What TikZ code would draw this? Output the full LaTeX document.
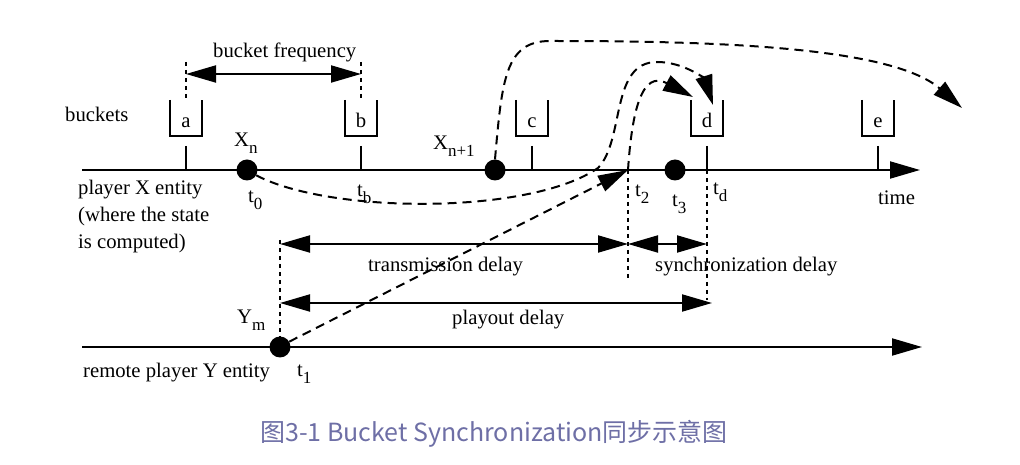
\documentclass[tikz,border=0pt]{standalone}
\usepackage{fontspec}
\setmainfont{Liberation Serif}
\newfontfamily\cjkfont{Noto Sans CJK SC}
\usetikzlibrary{arrows.meta}
\definecolor{capcol}{RGB}{110,111,166}
\newcommand{\lsub}[1]{\raisebox{-7bp}{\fontsize{17bp}{17bp}\selectfont #1}}
\begin{document}
\begin{tikzpicture}[x=1bp,y=-1bp,
  font=\fontsize{20.7bp}{25bp}\selectfont,
  mainline/.style={line width=2bp},
  bucketline/.style={line width=2.3bp},
  dashline/.style={line width=2bp, dash pattern=on 9bp off 6bp},
  dotline/.style={line width=2.5bp, dash pattern=on 4bp off 4bp},
  headend/.style={-{Triangle[length=30bp,width=17bp]}},
  dblend/.style={{Triangle[length=30bp,width=17bp]}-{Triangle[length=30bp,width=17bp]}},
  dot/.style={circle, fill=black, inner sep=0pt, minimum size=21bp},
  lbl/.style={inner sep=0pt, anchor=base west},
  blet/.style={inner sep=0pt, anchor=base}]
\fill[white] (0,0) rectangle (1020,465);
\useasboundingbox (0,0) rectangle (1020,465);

% axes
\coordinate (xs) at (82,170);
\coordinate (xe) at (920,170);
\coordinate (ys) at (82,347);
\coordinate (ye) at (922,347);
\draw[mainline, headend] (xs) -- (xe);
\draw[mainline, headend] (ys) -- (ye);

% ticks and buckets
\foreach \x/\l in {186/a,361/b,532/c,707/d,878/e}{
  \draw[mainline] (\x,146) -- (\x,170);
  \draw[bucketline] (\x-16,100) -- (\x-16,136) -- (\x+16,136) -- (\x+16,100);
  \node[blet] (b\l) at (\x,128) {\l};
}

% reference coordinates
\coordinate (t2) at (628,170);
\coordinate (td) at (707,170);

% dots
\node[dot] (xn) at (247,170) {};
\node[dot] (xn1) at (495,170) {};
\node[dot] (x3) at (675,170) {};
\node[dot] (ym) at (280,347) {};

% dotted guide lines
\draw[dotline] (186,62) -- (186,100);
\draw[dotline] (361,62) -- (361,100);
\draw[dotline] (280,240) -- (ym.north);
\draw[dotline] (t2) -- (628,278);
\draw[dotline] (td) -- (707,300);

% measurement arrows
\coordinate (bf1) at (186,74);
\coordinate (bf2) at (361,74);
\draw[mainline, dblend] (bf1) -- (bf2);
\coordinate (tr1) at (280,244);
\coordinate (tr2) at (628,244);
\coordinate (sy2) at (707,244);
\draw[mainline, dblend] (tr1) -- (tr2);
\draw[mainline, dblend] (tr2) -- (sy2);
\coordinate (pl1) at (280,303);
\coordinate (pl2) at (712,303);
\draw[mainline, dblend] (pl1) -- (pl2);

% dashed message paths
\coordinate (dR) at (713,105);
\coordinate (dL) at (693,97);
\coordinate (far) at (962,108);
\draw[dashline, headend] (xn.-30) .. controls (330,214) and (530,215) .. (598,168)
  .. controls (625,140) and (610,62) .. (657,62)
  .. controls (685,62) and (705,80) .. (dR);
\draw[dashline, headend] (ym.30) -- (t2);
\draw[dashline, headend] (t2) .. controls (632,110) and (642,70) .. (dL);
\draw[dashline, headend] (xn1.north) .. controls (502,80) and (505,41) .. (550,41)
  .. controls (700,41) and (890,45) .. (far);

% labels
\node[lbl] (lbuckets) at (65,122) {buckets};
\node[lbl] (lfreq) at (213,58) {bucket frequency};
\node[lbl] (lxn) at (234,147) {X\lsub{n}};
\node[lbl] (lxn1) at (433,150) {X\lsub{n+1}};
\node[lbl] (lt0) at (248,203) {t\lsub{0}};
\node[lbl] (ltb) at (357,197) {t\lsub{b}};
\node[lbl] (lt2) at (635,197) {t\lsub{2}};
\node[lbl] (lt3) at (672,207) {t\lsub{3}};
\node[lbl] (ltd) at (713,195) {t\lsub{d}};
\node[lbl] (ltime) at (878,205) {time};
\node[lbl] (lpx1) at (78,195) {player X entity};
\node[lbl] (lpx2) at (78,222) {(where the state};
\node[lbl] (lpx3) at (78,249) {is computed)};
\node[lbl] (ltrans) at (368,272) {transmission delay};
\node[lbl] (lsync) at (655,272) {synchronization delay};
\node[lbl] (lplay) at (452,325) {playout delay};
\node[lbl] (lym) at (237,324) {Y\lsub{m}};
\node[lbl] (lt1) at (297,377) {t\lsub{1}};
\node[lbl] (lremote) at (83,378) {remote player Y entity};

% caption
\node[inner sep=0pt, anchor=base, text=capcol, font=\cjkfont\fontsize{25bp}{30bp}\selectfont] (cap) at (494,441) {图3-1 Bucket Synchronization同步示意图};
\end{tikzpicture}
\end{document}
